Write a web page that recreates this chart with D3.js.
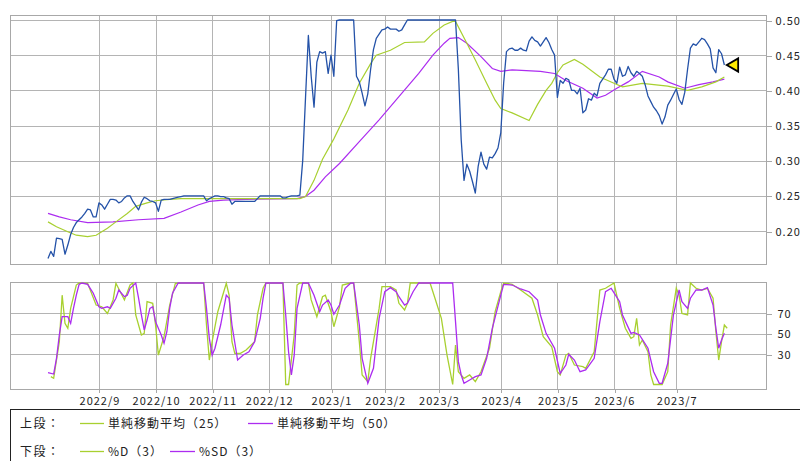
<!DOCTYPE html>
<html>
<head>
<meta charset="utf-8">
<script src="https://cdn.jsdelivr.net/npm/d3@7"></script>
<style>
    body { margin: 0; background: #fff; }
    svg { display: block; }
    text { font-family: "Noto Sans CJK JP", sans-serif; fill: #222; }
</style>
</head>
<body>
<svg id="grafico"></svg>
<script>
const WIDTH = 800,
    HEIGHT = 461;

const monthLabels = ["2022/9", "2022/10", "2022/11", "2022/12", "2023/1", "2023/2",
    "2023/3", "2023/4", "2023/5", "2023/6", "2023/7"];
const monthStartDay = [18, 38, 58, 78, 100, 119, 138, 160, 180, 200, 222];

const upperTicks = [0.20, 0.25, 0.30, 0.35, 0.40, 0.45, 0.50];
const lowerTicks = [30, 50, 70];

// daily close, one value per trading day
const price = [
    0.161, 0.171, 0.164, 0.190, 0.189, 0.188, 0.167, 0.180, 0.195, 0.205,
    0.212, 0.216, 0.220, 0.225, 0.231, 0.230, 0.220, 0.220, 0.240, 0.237,
    0.231, 0.238, 0.245, 0.245, 0.244, 0.240, 0.242, 0.247, 0.250, 0.250,
    0.242, 0.236, 0.230, 0.241, 0.248, 0.246, 0.243, 0.242, 0.240, 0.228,
    0.244, 0.245, 0.245, 0.245, 0.246, 0.247, 0.248, 0.249, 0.250, 0.250,
    0.250, 0.250, 0.250, 0.250, 0.250, 0.250, 0.243, 0.246, 0.248, 0.250,
    0.250, 0.249, 0.249, 0.247, 0.246, 0.238, 0.242, 0.242, 0.242, 0.242,
    0.242, 0.242, 0.242, 0.242, 0.246, 0.250, 0.250, 0.250, 0.250, 0.250,
    0.250, 0.250, 0.250, 0.247, 0.247, 0.249, 0.250, 0.250, 0.250, 0.251,
    0.300, 0.390, 0.478, 0.420, 0.376, 0.440, 0.455, 0.453, 0.455, 0.424,
    0.450, 0.420, 0.499, 0.500, 0.500, 0.500, 0.500, 0.500, 0.500, 0.420,
    0.412, 0.396, 0.378, 0.395, 0.430, 0.458, 0.474, 0.480, 0.486, 0.487,
    0.490, 0.487, 0.487, 0.487, 0.484, 0.486, 0.493, 0.500, 0.500, 0.500,
    0.500, 0.500, 0.500, 0.500, 0.500, 0.500, 0.500, 0.500, 0.500, 0.500,
    0.500, 0.500, 0.500, 0.500, 0.500, 0.430, 0.330, 0.272, 0.295, 0.285,
    0.270, 0.254, 0.292, 0.312, 0.295, 0.288, 0.305, 0.304, 0.310, 0.318,
    0.340, 0.410, 0.455, 0.459, 0.460, 0.457, 0.457, 0.460, 0.457, 0.456,
    0.470, 0.476, 0.471, 0.469, 0.463, 0.469, 0.475, 0.468, 0.458, 0.450,
    0.390, 0.414, 0.410, 0.417, 0.415, 0.400, 0.400, 0.395, 0.403, 0.368,
    0.372, 0.388, 0.386, 0.396, 0.392, 0.410, 0.416, 0.422, 0.430, 0.430,
    0.416, 0.410, 0.433, 0.420, 0.422, 0.434, 0.425, 0.420, 0.427, 0.424,
    0.420, 0.408, 0.392, 0.384, 0.376, 0.371, 0.364, 0.352, 0.362, 0.379,
    0.386, 0.394, 0.402, 0.387, 0.380, 0.397, 0.430, 0.460, 0.466, 0.464,
    0.469, 0.474, 0.472, 0.466, 0.459, 0.432, 0.425, 0.458, 0.452, 0.436
];

// 単純移動平均（25）
const ma25Day = [0, 3, 7, 10, 14, 17, 21, 24, 28, 31, 35, 38, 43, 47, 89, 91, 94, 97, 101, 106,
    110, 114, 116, 121, 126, 133, 136, 140, 143, 144, 148, 151, 155, 158, 160, 164, 170, 173, 176, 178,
    180, 182, 186, 189, 195, 200, 203, 210, 219, 226, 231, 236, 239];
const ma25 = [0.213, 0.206, 0.199, 0.194, 0.192, 0.194, 0.204, 0.213, 0.225, 0.235, 0.240, 0.243, 0.245, 0.246, 0.246, 0.249, 0.272, 0.302, 0.331, 0.372,
    0.410, 0.438, 0.450, 0.457, 0.468, 0.469, 0.481, 0.493, 0.498, 0.498, 0.467, 0.443, 0.410, 0.386, 0.374, 0.368, 0.357, 0.380, 0.400, 0.410,
    0.425, 0.436, 0.444, 0.437, 0.419, 0.410, 0.405, 0.410, 0.406, 0.400, 0.405, 0.412, 0.419];

// 単純移動平均（50）
const ma50Day = [0, 4, 8, 14, 23, 32, 41, 47, 53, 57, 62, 70, 88, 91, 94, 98, 103, 110, 117, 124,
    131, 136, 140, 142, 145, 148, 153, 157, 160, 164, 169, 174, 179, 183, 189, 194, 197, 201, 205, 210,
    216, 219, 225, 230, 235, 239];
const ma50 = [0.225, 0.220, 0.216, 0.212, 0.213, 0.216, 0.218, 0.227, 0.237, 0.242, 0.244, 0.245, 0.246, 0.249, 0.258, 0.277, 0.296, 0.327, 0.358, 0.391,
    0.424, 0.450, 0.467, 0.474, 0.475, 0.467, 0.448, 0.431, 0.427, 0.429, 0.428, 0.427, 0.424, 0.414, 0.403, 0.389, 0.393, 0.403, 0.412, 0.427,
    0.419, 0.412, 0.403, 0.408, 0.412, 0.416];

// %D（3）
const pctDDay = [1, 2, 4, 5, 6, 7, 8, 10, 11, 14,
    17, 19, 21, 23, 24, 27, 29, 30, 31, 33,
    34, 35, 37, 38, 39, 41, 43, 45, 47, 55,
    56, 57, 58, 60, 63, 64, 65, 66, 68, 70,
    73, 74, 76, 77, 83, 84, 85, 87, 88, 89,
    92, 93, 95, 97, 98, 100, 101, 103, 104, 107,
    108, 110, 111, 113, 114, 117, 118, 121, 123, 124,
    126, 127, 128, 135, 136, 139, 141, 143, 144, 145,
    147, 149, 151, 153, 156, 158, 160, 161, 164, 167,
    171, 173, 175, 178, 180, 181, 183, 184, 186, 189,
    190, 193, 195, 197, 200, 202, 204, 206, 207, 208,
    209, 210, 212, 213, 214, 217, 219, 220, 222, 223,
    224, 226, 227, 229, 231, 233, 235, 236, 237, 238,
    239, 240];
const pctD = [7.7, 6.1, 42.2, 88, 60.3, 55.4, 75, 98, 100, 99.7,
    78.3, 76.6, 70, 83.3, 99.7, 83.3, 98, 100, 68.5, 48.8,
    50.4, 81.6, 80, 58.6, 29, 47.1, 78.3, 99.7, 100, 100,
    58.6, 24.1, 42.2, 71.7, 99.7, 88, 42.2, 30.7, 30.7, 34,
    42.2, 68.5, 94.8, 100, 100, 0, 0, 48.8, 98, 100,
    100, 83.3, 66.8, 86.5, 88, 71.7, 56.9, 76.6, 98, 100,
    100, 42.2, 9.4, 2.8, 25.8, 75, 96.4, 96.4, 93.1, 80,
    73.4, 80, 100, 100, 91.4, 65.2, 29, 0, 38.9, 12.6,
    6.1, 9.4, 2.8, 12.6, 35.7, 71.7, 91.4, 100, 98.7, 93.1,
    85, 68.5, 47.1, 37.2, 12.6, 9.4, 29, 30.7, 19.2, 17.5,
    15.9, 32.3, 93.1, 94.8, 100, 75, 55.4, 45.5, 47.1, 65.2,
    38.9, 43.8, 32.3, 9.4, 0, 0, 12.6, 58.6, 94.8, 88,
    70, 68.5, 100, 94.8, 93.1, 94.8, 85, 52, 24.1, 42.2,
    58.6, 55.4];

// %SD（3）
const pctSDDay = [0, 2, 3, 4, 5, 7, 8, 9, 10, 11,
    12, 14, 16, 18, 19, 21, 22, 24, 25, 27,
    28, 29, 31, 32, 33, 34, 35, 36, 37, 38,
    40, 41, 42, 43, 44, 46, 55, 56, 57, 58,
    59, 61, 63, 64, 65, 67, 69, 71, 73, 75,
    76, 77, 83, 84, 85, 86, 87, 88, 90, 92,
    94, 96, 97, 99, 100, 101, 103, 105, 107, 108,
    110, 111, 113, 115, 117, 119, 121, 123, 124, 126,
    127, 129, 131, 143, 144, 145, 146, 147, 149, 151,
    153, 155, 157, 160, 161, 164, 167, 170, 173, 174,
    176, 179, 181, 183, 184, 186, 188, 190, 193, 195,
    197, 199, 202, 203, 206, 207, 209, 212, 214, 216,
    217, 219, 221, 223, 224, 226, 227, 229, 231, 233,
    235, 236, 237, 238, 239];
const pctSD = [11.6, 10.3, 25.8, 48.8, 66.8, 66.8, 60.3, 75, 88, 98.7,
    100, 98.7, 89.9, 76.6, 75, 76.6, 75, 85, 93, 86.5,
    88, 94.8, 100, 85, 68.5, 53.7, 63.5, 75, 76.6, 61.9,
    48.8, 40.6, 52, 75, 89.9, 100, 100, 75, 45.5, 29,
    35.7, 58.6, 88, 85, 58.6, 24.1, 29, 32.3, 42.2, 65.2,
    85, 100, 100, 68.5, 32.3, 9.4, 29, 75, 100, 100,
    88, 71.7, 78.3, 83.3, 78.3, 69.2, 78.3, 94.8, 100, 100,
    58.6, 25.8, 1.2, 16, 65.2, 91.4, 95.4, 91.4, 86.5, 78.3,
    80, 91.4, 100, 100, 61.9, 22.5, 9.4, 1.2, 4.4, 7.7,
    9.4, 25.8, 55.4, 88, 98.7, 98, 94.1, 91.4, 83.3, 68.5,
    50.4, 35.7, 11, 19.2, 29.8, 24.1, 12.6, 14.3, 25.8, 61.9,
    91.4, 94.8, 81.6, 68.5, 50.4, 51.4, 48.8, 35.7, 12.6, 1.2,
    1.2, 20.9, 68.5, 93.1, 81.6, 75, 85, 93.1, 93.1, 95.4,
    78.3, 55.4, 35.7, 43.8, 50.4];

const frame = { left: 10, right: 766 };
const upper = { top: 15, bottom: 264 };
const lower = { top: 282, bottom: 389 };

const GRID = "#b4b4b4",
    BORDER = "#a8a8a8",
    BLUE = "#2452a8",
    GREEN = "#a8d030",
    PURPLE = "#ac2cf0";

const svg = d3.select("#grafico")
    .attr("width", WIDTH)
    .attr("height", HEIGHT);

const escalaX = d3.scaleLinear()
    .domain([-13.43, 253.71])
    .range([frame.left, frame.right]);

const escalaUpper = d3.scaleLinear()
    .domain([0.20, 0.50])
    .range([231, 20]);

const escalaLower = d3.scaleLinear()
    .domain([0, 100])
    .range([384.5, 283]);

const xm = d => Math.round(escalaX(d)) + 0.5;

// gridlines
const grid = svg.append("g")
    .attr("stroke", GRID)
    .attr("stroke-width", 1)
    .attr("shape-rendering", "crispEdges");

grid.selectAll(".hu")
    .data(upperTicks)
    .join("line")
    .attr("x1", frame.left)
    .attr("x2", frame.right)
    .attr("y1", d => Math.round(escalaUpper(d)) + 0.5)
    .attr("y2", d => Math.round(escalaUpper(d)) + 0.5);

grid.selectAll(".hl")
    .data(lowerTicks, d => "l" + d)
    .join("line")
    .attr("x1", frame.left)
    .attr("x2", frame.right)
    .attr("y1", d => Math.round(escalaLower(d)) + 0.5)
    .attr("y2", d => Math.round(escalaLower(d)) + 0.5);

[upper, lower].forEach(panel => {
    grid.append("g")
        .selectAll("line")
        .data(monthStartDay)
        .join("line")
        .attr("x1", xm)
        .attr("x2", xm)
        .attr("y1", panel.top)
        .attr("y2", panel.bottom);
});

// marcos
[upper, lower].forEach(panel => {
    svg.append("rect")
        .attr("x", frame.left + 0.5)
        .attr("y", panel.top + 0.5)
        .attr("width", frame.right - frame.left)
        .attr("height", panel.bottom - panel.top)
        .attr("fill", "none")
        .attr("stroke", BORDER)
        .attr("shape-rendering", "crispEdges");
});

// ejes
const ejeUpper = d3.axisRight(escalaUpper)
    .tickValues(upperTicks)
    .tickSize(5)
    .tickPadding(4)
    .tickFormat(d3.format(".2f"));

svg.append("g")
    .attr("transform", `translate(${frame.right + 0.5} 0.5)`)
    .call(ejeUpper)
    .call(g => g.select(".domain").remove());

const ejeLower = d3.axisRight(escalaLower)
    .tickValues(lowerTicks)
    .tickSize(5)
    .tickPadding(6);

svg.append("g")
    .attr("transform", `translate(${frame.right + 0.5} 0.5)`)
    .call(ejeLower)
    .call(g => g.select(".domain").remove());

const ejeX = d3.axisBottom(escalaX)
    .tickValues(monthStartDay)
    .tickSize(4)
    .tickPadding(4)
    .tickFormat((d, i) => monthLabels[i]);

svg.append("g")
    .attr("transform", `translate(0.5 ${lower.bottom})`)
    .call(ejeX)
    .call(g => g.select(".domain").remove());

svg.selectAll(".tick line")
    .attr("stroke", BORDER)
    .attr("shape-rendering", "crispEdges");

svg.selectAll(".tick text")
    .attr("fill", "#222")
    .style("font-family", "'Noto Sans CJK JP', sans-serif")
    .style("font-size", "11px")
    .style("letter-spacing", "1px");

// series
const lineaUpper = d3.line()
    .x(d => escalaX(d[0]))
    .y(d => escalaUpper(d[1]));

const lineaLower = d3.line()
    .x(d => escalaX(d[0]))
    .y(d => escalaLower(d[1]));

svg.append("path")
    .datum(d3.zip(ma50Day, ma50))
    .attr("fill", "none")
    .attr("stroke", PURPLE)
    .attr("stroke-width", 1.2)
    .attr("d", lineaUpper);

svg.append("path")
    .datum(d3.zip(ma25Day, ma25))
    .attr("fill", "none")
    .attr("stroke", GREEN)
    .attr("stroke-width", 1.2)
    .attr("d", lineaUpper);

svg.append("path")
    .datum(price.map((v, i) => [i, v]))
    .attr("fill", "none")
    .attr("stroke", BLUE)
    .attr("stroke-width", 1.3)
    .attr("stroke-linejoin", "round")
    .attr("d", lineaUpper);

svg.append("path")
    .datum(d3.zip(pctDDay, pctD))
    .attr("fill", "none")
    .attr("stroke", GREEN)
    .attr("stroke-width", 1.3)
    .attr("d", lineaLower);

svg.append("path")
    .datum(d3.zip(pctSDDay, pctSD))
    .attr("fill", "none")
    .attr("stroke", PURPLE)
    .attr("stroke-width", 1.3)
    .attr("d", lineaLower);

// marcador del ultimo precio
const lastDay = price.length - 1;
svg.append("path")
    .attr("d", d3.symbol(d3.symbolTriangle, 75))
    .attr("transform", `translate(${escalaX(lastDay) + 10} ${escalaUpper(price[lastDay])}) rotate(-90)`)
    .attr("fill", "#ffec00")
    .attr("stroke", "#000")
    .attr("stroke-width", 1.8)
    .attr("stroke-linejoin", "miter");

// leyenda
svg.append("rect")
    .attr("x", 10.5)
    .attr("y", 409.5)
    .attr("width", 820)
    .attr("height", 80)
    .attr("fill", "none")
    .attr("stroke", "#222")
    .attr("shape-rendering", "crispEdges");

const legendRows = [
    { label: "上段：", y: 428, items: [
        { name: "単純移動平均（25）", color: GREEN, x: 80, w: 24 },
        { name: "単純移動平均（50）", color: PURPLE, x: 248, w: 25 }
    ]},
    { label: "下段：", y: 456, items: [
        { name: "%D（3）", color: GREEN, x: 80, w: 24 },
        { name: "%SD（3）", color: PURPLE, x: 170, w: 25 }
    ]}
];

legendRows.forEach(row => {
    svg.append("text")
        .attr("x", 20)
        .attr("y", row.y)
        .style("font-size", "12px")
        .style("letter-spacing", "1.5px")
        .text(row.label);

    const items = svg.append("g")
        .selectAll("g")
        .data(row.items)
        .join("g");

    items.append("line")
        .attr("x1", d => d.x)
        .attr("x2", d => d.x + d.w)
        .attr("y1", row.y - 4.5)
        .attr("y2", row.y - 4.5)
        .attr("stroke", d => d.color)
        .attr("stroke-width", 1.3);

    items.append("text")
        .attr("x", d => d.x + d.w + 4)
        .attr("y", row.y)
        .style("font-size", "12px")
        .style("letter-spacing", "1px")
        .text(d => d.name);
});
</script>
</body>
</html>
